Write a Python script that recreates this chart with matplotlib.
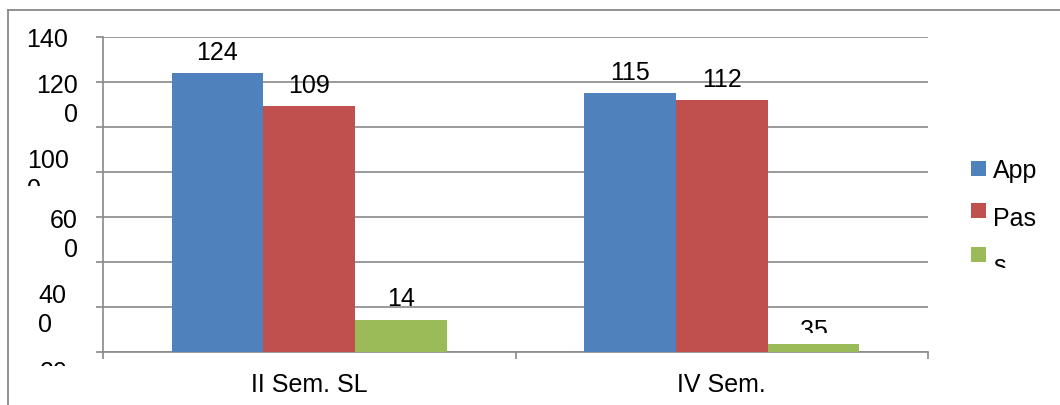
import matplotlib
matplotlib.use("Agg")
import matplotlib.pyplot as plt
from matplotlib.patches import Rectangle
from matplotlib.lines import Line2D
from matplotlib.transforms import Bbox, TransformedBbox
import numpy as np

# ---------------- data ----------------
categories = ["II Sem. SL", "IV Sem."]
series_names = ["App", "Pas", "s"]          # legend labels as shown (truncated)
app_values = [1240, 1150]
pas_values = [1090, 1120]
s_values = [140, 35]
bar_labels = [["124", "115"], ["109", "112"], ["14", "35"]]   # labels as shown (truncated)
ytick_values = [0, 200, 400, 600, 800, 1000, 1200, 1400]
ytick_label_lines = [["140"], ["120", "0"], ["100", "0"], ["60", "0"], ["40", "0"], ["20"]]
colors = ["#4F81BD", "#C0504D", "#9BBB59"]

W, H = 1060, 405
plt.rcParams["font.family"] = ["Liberation Sans", "DejaVu Sans"]
fig = plt.figure(figsize=(W / 100, H / 100), dpi=100)


def fx(px):
    return px / W


def fy(py):
    return 1 - py / H


def clip_below(py):
    """clip box in figure coords keeping everything above pixel row py"""
    return TransformedBbox(Bbox([[0, fy(py)], [1, 1]]), fig.transFigure)


grey = "#898989"

# outer frame lines
fig.add_artist(Line2D([fx(8), fx(8)], [fy(10), fy(405)], color=grey, lw=1.3))
fig.add_artist(Line2D([fx(8), fx(1060)], [fy(10), fy(10)], color=grey, lw=1.3))

# ---------------- axes ----------------
ax = fig.add_axes([fx(103), fy(352), fx(928) - fx(103), fy(36.5) - fy(352)])
ax.set_xlim(-0.5, 1.5)
ax.set_ylim(0, 1400)

x = np.arange(len(categories))
w = 0.2225
series = [app_values, pas_values, s_values]
label_offsets = [[13, 13], [13, 13], [14, 6]]  # px above bar tops
for i, vals in enumerate(series):
    pos = x + (i - 1) * w
    bars = ax.bar(pos, vals, width=w, color=colors[i], zorder=3)
    for j, b in enumerate(bars):
        t = ax.annotate(bar_labels[i][j], (b.get_x() + b.get_width() / 2, b.get_height()),
                        xytext=(0, label_offsets[i][j] * 0.72), textcoords="offset points",
                        ha="center", va="baseline", fontsize=18, color="black", zorder=4)
        if bar_labels[i][j] == "35":
            t.set_clip_on(True)
            t.set_clip_box(clip_below(333))

ax.set_yticks(ytick_values)
ax.set_yticklabels([])
ax.yaxis.grid(True, color=grey, lw=1.2, zorder=0)
ax.tick_params(axis="y", length=5, width=1.2, color=grey, direction="out")
ax.set_xticks(x)
ax.set_xticklabels(categories, fontsize=18)
ax.tick_params(axis="x", which="major", length=0, pad=15)
ax.set_xticks([-0.5, 0.5, 1.5], minor=True)
ax.tick_params(axis="x", which="minor", length=5, width=1.2, color=grey, direction="out")
for s in ["top", "right"]:
    ax.spines[s].set_visible(False)
for s in ["left", "bottom"]:
    ax.spines[s].set_color(grey)
    ax.spines[s].set_linewidth(1.2)
ax.set_axisbelow(True)

# ---------------- y tick labels (as rendered, wrapped/clipped) ----------------
# (anchor x px, first-line baseline px, alignment, clip row)
ylab_layout = [(68, 47, "right", None), (78, 93, "right", None), (27, 168, "left", 186),
               (78, 228, "right", None), (38, 303, "left", None), (40, 380, "left", 366)]
line_step = 29
for lines, (px, py, ha, cl) in zip(ytick_label_lines, ylab_layout):
    for k, ln in enumerate(lines):
        t = fig.text(fx(px), fy(py + k * line_step), ln, ha=ha, va="baseline", fontsize=18)
        if cl is not None:
            t.set_clip_on(True)
            t.set_clip_box(clip_below(cl))

# ---------------- legend (manual, truncated/clipped as rendered) ----------------
leg_box_top = [161, 203, 247]
leg_baseline = [178, 226, 273]
leg_clip = [None, None, 268]
for name, c, ty, tb, cl in zip(series_names, colors, leg_box_top, leg_baseline, leg_clip):
    fig.add_artist(Rectangle((fx(971), fy(ty + 14.5)), fx(15), fy(0) - fy(14.5),
                             transform=fig.transFigure, color=c, lw=0))
    t = fig.text(fx(993), fy(tb), name, ha="left", va="baseline", fontsize=18)
    if cl is not None:
        t.set_clip_on(True)
        t.set_clip_box(clip_below(cl))

fig.savefig("out.png", dpi=100)
